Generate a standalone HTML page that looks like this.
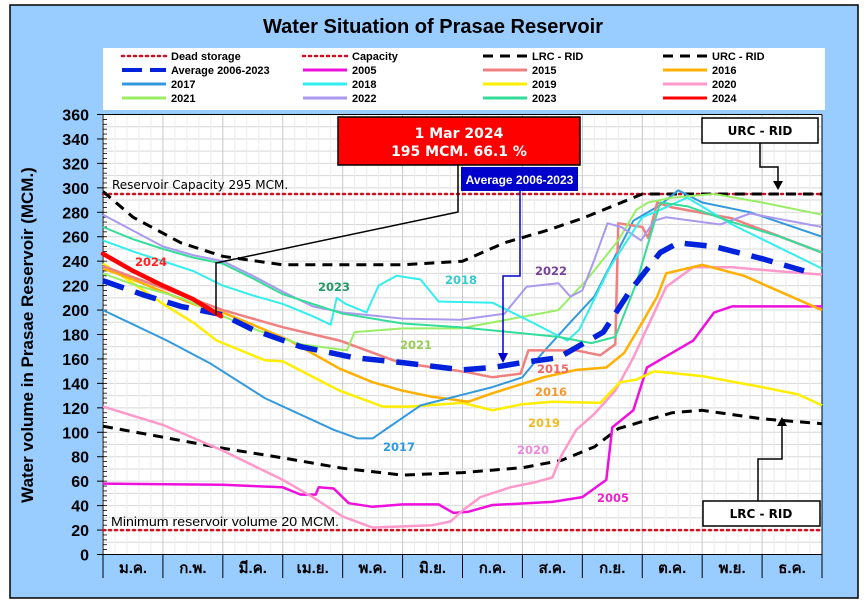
<!DOCTYPE html>
<html><head><meta charset="utf-8"><style>
body{margin:0;background:#fff;}
svg{display:block;font-family:"Liberation Sans",sans-serif;}
</style></head><body>
<svg id="chart" width="866" height="607" viewBox="0 0 866 607" xmlns="http://www.w3.org/2000/svg">
<rect x="0" y="0" width="866" height="607" fill="#ffffff"/>
<rect x="10" y="5" width="848" height="593" fill="#99ccff" stroke="#000" stroke-width="1.5"/>
<text x="433" y="33" text-anchor="middle" font-size="20" font-weight="bold" textLength="340" lengthAdjust="spacingAndGlyphs">Water Situation of Prasae Reservoir</text>
<rect x="103" y="48" width="722" height="62" fill="#fff"/>
<g id="legend"></g>
<rect x="102" y="115" width="720" height="440" fill="#fff"/>
<g id="grid"></g>
<g id="axes"></g>
<g id="series"></g>
<text x="33" y="335" transform="rotate(-90 33 335)" text-anchor="middle" font-size="17" font-weight="bold">Water volume in Prasae Reservoir (MCM.)</text>
<text x="112" y="189" font-family="DejaVu Sans,sans-serif" font-size="12" fill="#000">Reservoir Capacity 295 MCM.</text>
<text x="111" y="526" font-size="13" fill="#000" textLength="228" lengthAdjust="spacingAndGlyphs">Minimum reservoir volume 20 MCM.</text>
<g font-family="DejaVu Sans,sans-serif" font-size="11.5" font-weight="bold">
<text x="135" y="266" fill="#ff2222">2024</text>
<text x="318" y="291" fill="#229966">2023</text>
<text x="445" y="284" fill="#33cccc">2018</text>
<text x="535" y="275" fill="#774499">2022</text>
<text x="400" y="349" fill="#99cc55">2021</text>
<text x="537" y="373" fill="#ee6666">2015</text>
<text x="535" y="396" fill="#ee9933">2016</text>
<text x="528" y="427" fill="#eebb22">2019</text>
<text x="383" y="451" fill="#3399dd">2017</text>
<text x="517" y="454" fill="#ee88dd">2020</text>
<text x="597" y="502" fill="#ee22cc">2005</text>
</g>
<g>
<polyline points="216,315 216,263 458,212 458,165" fill="none" stroke="#000" stroke-width="1.5"/>
<rect x="338" y="117" width="242" height="48" fill="#ff0000" stroke="#000" stroke-width="1.5"/>
<text x="459" y="138" text-anchor="middle" fill="#fff" font-family="DejaVu Sans,sans-serif" font-weight="bold" font-size="14">1 Mar 2024</text>
<text x="459" y="156" text-anchor="middle" fill="#fff" font-family="DejaVu Sans,sans-serif" font-weight="bold" font-size="14">195 MCM. 66.1 %</text>
</g>
<g>
<polyline points="520,191 520,276 503,276 503,355" fill="none" stroke="#0000cc" stroke-width="1.5"/>
<polygon points="498,353 508,353 503,363" fill="#0000cc"/>
<rect x="461" y="167" width="117" height="24" fill="#0000cc"/>
<text x="519.5" y="184" text-anchor="middle" fill="#fff" font-weight="bold" font-size="12">Average 2006-2023</text>
</g>
<g>
<polyline points="760,143 760,167 778,167 778,182" fill="none" stroke="#000" stroke-width="1.5"/>
<polygon points="773,181 783,181 778,190" fill="#000"/>
<rect x="702" y="118" width="116" height="25" fill="#fff" stroke="#000" stroke-width="1.5"/>
<text x="760" y="135" text-anchor="middle" font-family="DejaVu Sans,sans-serif" font-weight="bold" font-size="12">URC - RID</text>
</g>
<g>
<polyline points="758,501 758,459 782,459 782,425" fill="none" stroke="#000" stroke-width="1.5"/>
<polygon points="777,426 787,426 782,417" fill="#000"/>
<rect x="703" y="501" width="117" height="25" fill="#fff" stroke="#000" stroke-width="1.5"/>
<text x="761" y="518" text-anchor="middle" font-family="DejaVu Sans,sans-serif" font-weight="bold" font-size="12">LRC - RID</text>
</g>
</svg>
<script>
const monthLabels=["ม.ค.","ก.พ.","มี.ค.","เม.ย.","พ.ค.","มิ.ย.","ก.ค.","ส.ค.","ก.ย.","ต.ค.","พ.ย.","ธ.ค."];
const yTicks=[0,20,40,60,80,100,120,140,160,180,200,220,240,260,280,300,320,340,360];
const deadStorage=20;
const capacity=295;
const lrc=[[0,105],[1,96],[2,87],[3,79],[4,70.5],[5,65],[6,67],[7,71],[7.65,77],[8.2,88],[8.6,103],[9.5,116],[10,118],[11,111],[12,107]];
const urc=[[0,297],[0.5,276],[1.3,255],[2,244],[3,237],[5,237],[6,240],[6.7,255],[7.4,265],[8,275],[8.5,285],[9,295],[12,295]];
const avg=[[0,224],[0.7,212],[1.3,203],[2,196],[2.5,184],[3.3,170],[4.2,161],[5,157],[6,151],[6.5,153],[7,157],[7.6,161],[8.35,182],[8.8,216],[9.3,247],[9.6,255],[10.2,252],[11,242],[11.7,232]];
const y2005=[[0,58],[2,57],[3,55],[3.3,49],[3.55,49],[3.6,55],[3.85,54],[4.1,42],[4.5,39],[5,41],[5.6,41],[5.85,34],[6.1,35],[6.5,40.5],[7.5,43],[8,47],[8.4,61],[8.5,104],[8.85,118],[9.08,153],[9.5,165],[9.85,175],[10.2,198],[10.5,203],[12,203]];
const y2015=[[0,236],[1,218],[2,200],[3,186],[3.95,175],[4.95,157],[6.1,149],[6.5,145],[6.97,148],[7.1,167],[7.9,167],[8.3,163],[8.55,172],[8.6,271],[9.0,268],[9.1,259],[9.25,288],[9.5,284],[10.5,275],[12,247]];
const y2016=[[0,234],[0.5,225],[1,215],[1.5,205],[2,198],[2.5,188],[3.12,175],[3.95,152],[4.5,141],[5,134],[5.5,129],[6.1,125],[6.5,132],[7.35,145],[7.9,151],[8.4,153],[8.7,165],[9.0,190],[9.25,211],[9.4,230],[10,237],[10.7,228],[11.3,215],[12,200]];
const y2017=[[0,200],[1.07,175],[1.8,156],[2.7,128],[3.85,102],[4.25,95],[4.5,95],[5.3,122],[6.1,132],[6.5,137],[7,145],[7.3,163],[7.8,190],[8.2,211],[8.85,273],[9.3,286],[9.6,298],[10,288],[10.8,280],[12,260]];
const y2018=[[0,257],[0.5,248],[1,240],[1.5,232],[2,220],[2.5,212],[3,205],[3.5,195],[3.8,188],[3.9,210],[4.05,205],[4.4,198],[4.6,220],[4.9,228],[5.3,225],[5.6,207],[6.5,206],[7.2,189],[7.75,175],[7.95,184],[8.46,235],[9.0,276],[9.3,282],[9.75,292],[10.5,270],[12,234]];
const y2019=[[0,238],[0.5,222],[1,205],[1.5,190],[1.9,175],[2.7,159],[3,158],[3.95,134],[4.67,121],[5.1,121],[6,124],[6.5,118],[7,123],[7.5,125],[8.3,124],[8.63,141],[8.9,143],[9.2,150],[10,146],[11,137],[11.6,131],[12,122]];
const y2020=[[0,121],[1,106],[2,85],[3,61],[3.5,47],[4,31],[4.5,22],[5.5,24],[5.8,27],[6,36],[6.3,47],[6.8,55],[7.2,59],[7.5,63],[7.65,81],[7.9,102],[8.2,115],[8.55,134],[8.85,161],[9.4,219],[9.85,235],[10.5,235],[11.2,232],[12,229]];
const y2021=[[0,230],[0.5,221],[1.3,210],[2,195],[2.6,183],[3.3,172],[4.07,167],[4.2,182],[5,185],[5.96,185],[7.6,200],[8.08,225],[8.6,257],[8.9,282],[9.1,288],[9.5,292],[10.2,295],[11,288],[12,278]];
const y2022=[[0,278],[0.5,265],[1,252],[1.5,245],[2,240],[2.5,228],[3,215],[3.5,203],[4,198],[5,193],[5.96,192],[6.7,197],[7.07,219],[7.6,222],[7.8,211],[8.0,216],[8.2,241],[8.42,271],[8.65,268],[8.98,257],[9.2,273],[9.4,276],[10.3,270],[10.8,279],[12,268]];
const y2023=[[0,268],[0.5,258],[1,250],[1.5,243],[2,238],[2.5,226],[3,213],[3.5,205],[4,197],[5,189],[5.96,186],[7.6,178],[8.15,173],[8.55,178],[8.9,222],[9.15,263],[9.3,288],[9.75,285],[10.5,272],[11.3,260],[12,247]];
const y2024=[[0,246],[0.5,232],[1,220],[1.5,209],[1.97,195]];

const NS="http://www.w3.org/2000/svg";
const X0=103,XW=719,Y0=554.5,YK=1.2222;
function xs(m){return X0+m*XW/12;}
function ys(v){return Y0-v*YK;}
function mk(tag,attrs,parent){const e=document.createElementNS(NS,tag);for(const k in attrs)e.setAttribute(k,attrs[k]);parent.appendChild(e);return e;}
const grid=document.getElementById('grid'),axes=document.getElementById('axes'),ser=document.getElementById('series'),leg=document.getElementById('legend');
// grid
for(let v=0;v<=360;v+=10){const l=mk('line',{x1:X0,x2:X0+XW,y1:ys(v),y2:ys(v),stroke:'#d8d8d8','stroke-width':1},grid);

}
for(let i=0;i<=60;i++){const m=i/5;const l=mk('line',{x1:xs(m),x2:xs(m),y1:ys(360),y2:ys(0),stroke:(i%5==0)?'#c8c8c8':'#ececec','stroke-width':1},grid);

}
// axes
mk('line',{x1:X0,x2:X0,y1:ys(360),y2:578,stroke:'#000','stroke-width':1},axes);
mk('line',{x1:X0,x2:X0+XW,y1:ys(360),y2:ys(360),stroke:'#000','stroke-width':1},axes);
mk('line',{x1:X0+XW,x2:X0+XW,y1:ys(360),y2:ys(0),stroke:'#000','stroke-width':1},axes);
mk('line',{x1:X0,x2:X0+XW,y1:ys(0),y2:ys(0),stroke:'#000','stroke-width':1},axes);
for(let v=0;v<=360;v+=4){mk('line',{x1:X0,x2:X0+4,y1:ys(v),y2:ys(v),stroke:'#000','stroke-width':0.8},axes);}
yTicks.forEach(v=>{mk('line',{x1:X0-6,x2:X0,y1:ys(v),y2:ys(v),stroke:'#000','stroke-width':1},axes);
const t=mk('text',{x:89,y:ys(v)+6,'text-anchor':'end','font-size':16,'font-weight':'bold'},axes);t.textContent=v;

});
monthLabels.forEach((lab,i)=>{mk('line',{x1:xs(i+1),x2:xs(i+1),y1:ys(0),y2:578,stroke:'#000','stroke-width':1},axes);
const t=mk('text',{x:xs(i+0.5),y:573,'text-anchor':'middle','font-size':15,'font-weight':'bold','font-family':'"Liberation Sans","Noto Sans CJK SC",sans-serif'},axes);t.textContent=lab;

});
// series
function line(data,st,name){const p=mk('polyline',{points:data.map(d=>xs(d[0]).toFixed(1)+','+ys(d[1]).toFixed(1)).join(' '),fill:'none','stroke-linejoin':'round',...st},ser);

}
const dotted={stroke:'#cc1122','stroke-width':2.5,'stroke-dasharray':'2 4','stroke-linecap':'round'};
line([[0,deadStorage],[12,deadStorage]],dotted,'dead-storage-line');
line([[0,capacity],[12,capacity]],dotted,'capacity-line');
line(lrc,{stroke:'#000','stroke-width':3,'stroke-dasharray':'10 7'},'lrc-rid-line');
line(urc,{stroke:'#000','stroke-width':3,'stroke-dasharray':'10 7'},'urc-rid-line');
line(y2005,{stroke:'#ee11dd','stroke-width':2.5},'line-2005');
line(y2020,{stroke:'#ff99cc','stroke-width':2.5},'line-2020');
line(y2019,{stroke:'#ffee00','stroke-width':2.5},'line-2019');
line(y2016,{stroke:'#ffb000','stroke-width':2.5},'line-2016');
line(y2017,{stroke:'#3399dd','stroke-width':2},'line-2017');
line(y2015,{stroke:'#f08080','stroke-width':2.5},'line-2015');
line(y2021,{stroke:'#99ee66','stroke-width':2},'line-2021');
line(y2022,{stroke:'#aa99ee','stroke-width':2},'line-2022');
line(y2018,{stroke:'#33eeee','stroke-width':2},'line-2018');
line(y2023,{stroke:'#33dd99','stroke-width':2},'line-2023');
line(avg,{stroke:'#0022dd','stroke-width':5.5,'stroke-dasharray':'22 12'},'line-average-2006-2023');
line(y2024,{stroke:'#ff0000','stroke-width':4.5,'stroke-linecap':'round'},'line-2024');
// legend
const legendItems=[["Dead storage",dotted],["Capacity",dotted],["LRC - RID",{stroke:'#000','stroke-width':3,'stroke-dasharray':'10 7'}],["URC - RID",{stroke:'#000','stroke-width':3,'stroke-dasharray':'10 7'}],
["Average 2006-2023",{stroke:'#0022dd','stroke-width':4,'stroke-dasharray':'20 8'}],["2005",{stroke:'#ee11dd','stroke-width':3}],["2015",{stroke:'#f08080','stroke-width':3}],["2016",{stroke:'#ffb000','stroke-width':3}],
["2017",{stroke:'#3399dd','stroke-width':3}],["2018",{stroke:'#33eeee','stroke-width':3}],["2019",{stroke:'#ffee00','stroke-width':3}],["2020",{stroke:'#ff99cc','stroke-width':3}],
["2021",{stroke:'#99ee66','stroke-width':3}],["2022",{stroke:'#aa99ee','stroke-width':3}],["2023",{stroke:'#33dd99','stroke-width':3}],["2024",{stroke:'#ff0000','stroke-width':3}]];
const colX=[122,303,483,663];
legendItems.forEach((it,i)=>{const c=i%4,r=Math.floor(i/4);const y=56+r*14;
const g=mk('g',{},leg);


mk('line',{x1:colX[c],x2:colX[c]+44,y1:y,y2:y,...it[1]},g);
const t=mk('text',{x:colX[c]+49,y:y+4,'font-size':11,'font-weight':'bold'},g);t.textContent=it[0];});
</script>
</body></html>
